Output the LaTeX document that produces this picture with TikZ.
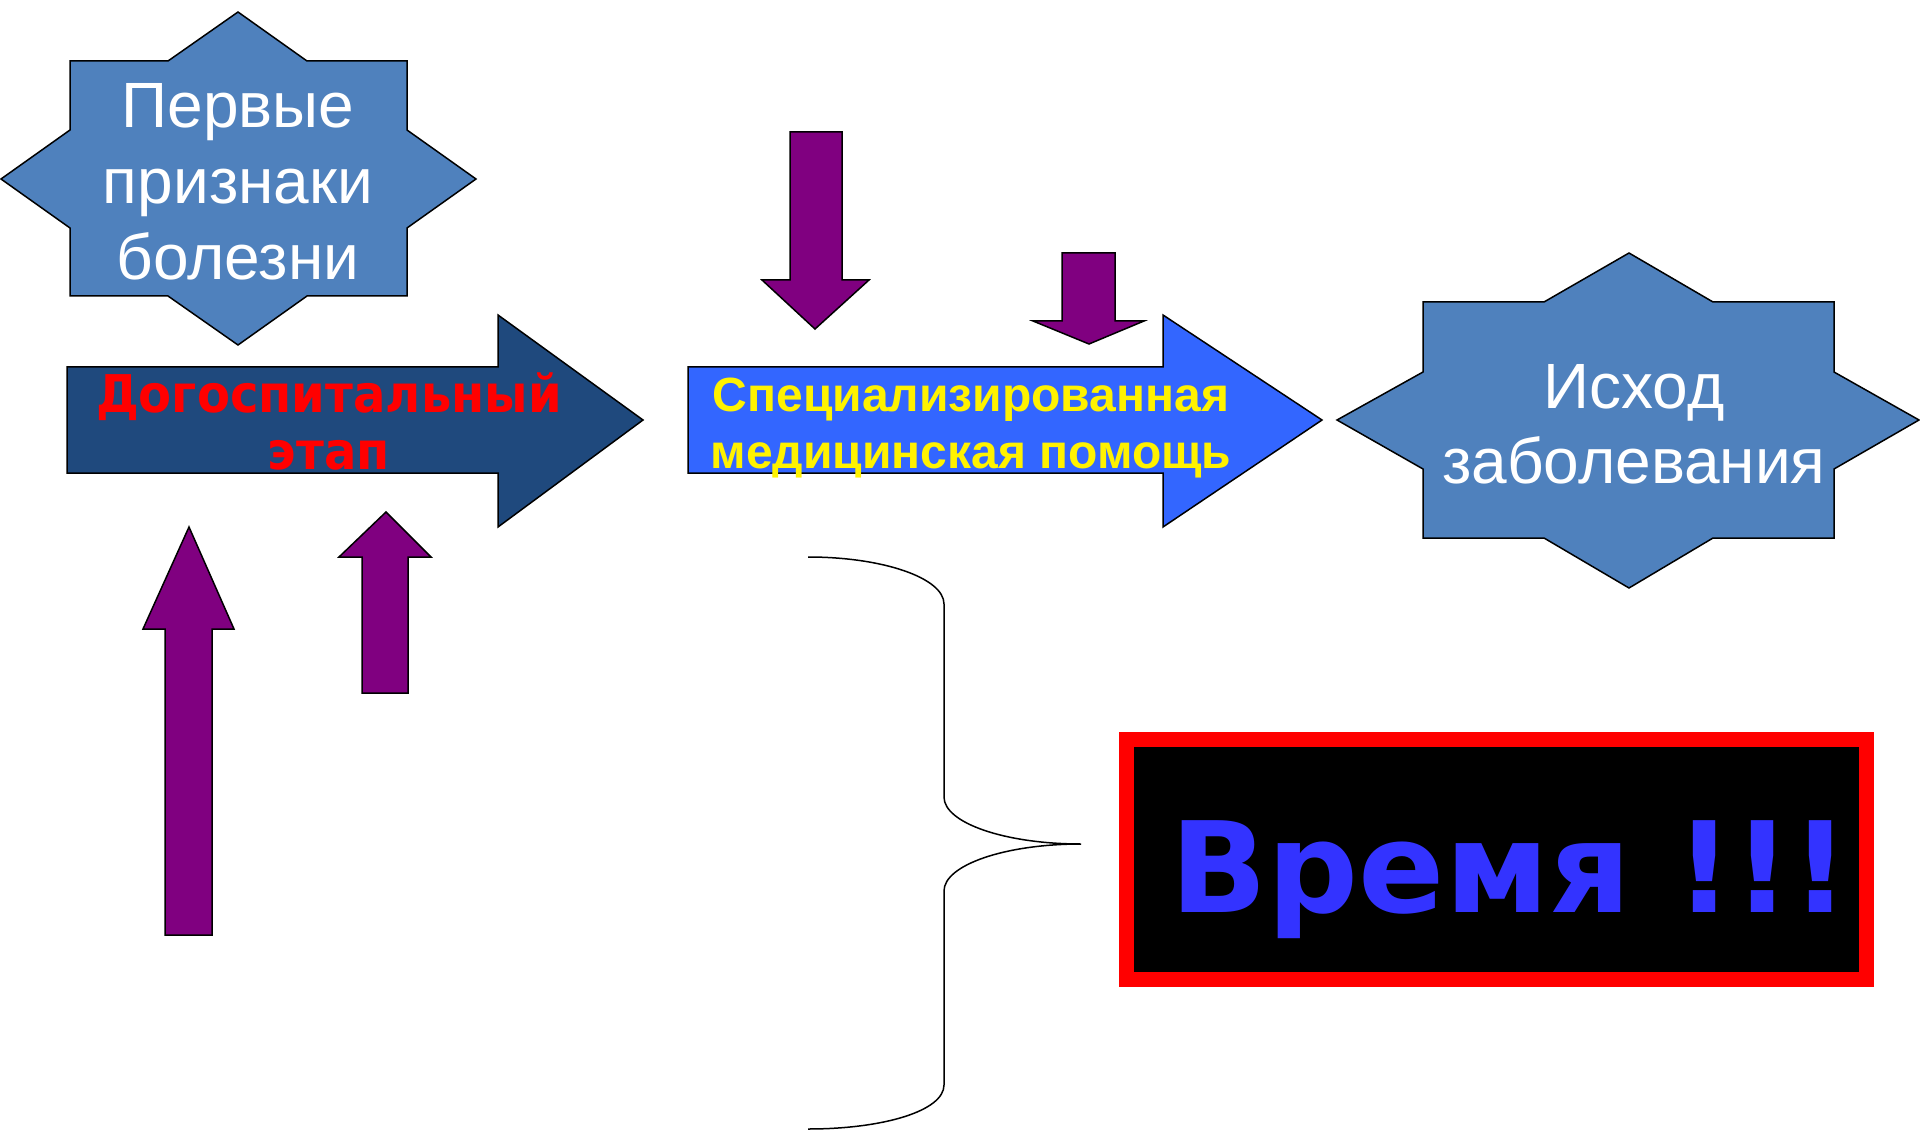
\documentclass[tikz,border=0pt]{standalone}
\usepackage{fontspec}
\setmainfont{Liberation Sans}
\newfontfamily\dvb[FakeStretch=0.925]{DejaVu Sans}
\newfontfamily\dvbw[FakeStretch=1.01]{DejaVu Sans}
\definecolor{starblue}{RGB}{79,129,189}
\definecolor{darkarrow}{RGB}{31,73,125}
\definecolor{brightarrow}{RGB}{51,102,255}
\definecolor{purp}{RGB}{128,0,128}
\definecolor{timeblue}{RGB}{51,51,255}
\begin{document}
\begin{tikzpicture}[x=1pt,y=-1pt,
  shapeline/.style={draw=black,line width=1.5pt,line join=miter},
  starshape/.style={shapeline,fill=starblue},
  purparrow/.style={shapeline,fill=purp},
  startext/.style={align=center,text=white,font=\fontsize{64}{76}\selectfont,inner sep=0pt},
]
\useasboundingbox (0,0) rectangle (1920,1131);
\fill[white] (0,0) rectangle (1920,1131);

% Star 1
\draw[starshape] (238,12) -- (307,61) -- (407,61) -- (407,130) -- (476,179) -- (407,228) -- (407,296)
  -- (307,296) -- (238,345) -- (168,296) -- (70,296) -- (70,228) -- (1,179) -- (70,130) -- (70,61) -- (168,61) -- cycle;
\node[startext] (first) at (238,182) {Первые\\признаки\\болезни};

% Star 2
\draw[starshape] (1629,253) -- (1713,302) -- (1834,302) -- (1834,372) -- (1919,420) -- (1834,469) -- (1834,538)
  -- (1713,538) -- (1629,588) -- (1544,538) -- (1423,538) -- (1423,469) -- (1337,420) -- (1423,372) -- (1423,302) -- (1544,302) -- cycle;
\node[startext,font=\fontsize{64}{75}\selectfont] (outcome) at (1634,424) {Исход\\заболевания};

% Arrow 1
\draw[shapeline,fill=darkarrow] (67,367) -- (498,367) -- (498,315) -- (643,420) -- (498,527) -- (498,473) -- (67,473) -- cycle;
\node[align=center,text=red,font=\dvb\bfseries\fontsize{52}{57}\selectfont,inner sep=0pt] (prehosp) at (329,421) {Догоспитальный\\этап};

% Arrow 2
\draw[shapeline,fill=brightarrow] (688,367) -- (1163,367) -- (1163,315) -- (1322,420) -- (1163,527) -- (1163,473) -- (688,473) -- cycle;
\node[align=center,text=yellow,font=\bfseries\fontsize{48}{57}\selectfont,inner sep=0pt] (spec) at (971,428) {Специализированная\\медицинская помощь};

% Down arrows
\draw[purparrow] (790,132) -- (842,132) -- (842,280) -- (869,280) -- (815,329) -- (762,280) -- (790,280) -- cycle;
\draw[purparrow] (1062,253) -- (1115,253) -- (1115,321) -- (1144,321) -- (1089,344) -- (1033,321) -- (1062,321) -- cycle;

% Up arrows
\draw[purparrow] (165,935) -- (212,935) -- (212,629) -- (234,629) -- (189,527) -- (143,629) -- (165,629) -- cycle;
\draw[purparrow] (362,693) -- (408,693) -- (408,557) -- (431,557) -- (386,512) -- (339,557) -- (362,557) -- cycle;

% Brace
\coordinate (bt) at (808,557);
\coordinate (bm) at (1081,844);
\coordinate (bb) at (808,1129);
\draw[black,line width=1.5pt] (bt) .. controls (883,557) and (944,578) .. (944,604) -- (944,797)
  .. controls (944,823) and (1005,844) .. (bm)
  .. controls (1005,844) and (944,865) .. (944,891) -- (944,1085)
  .. controls (944,1111) and (883,1129) .. (bb);

% Time box
\draw[red,line width=15pt,fill=black] (1126.5,739) rectangle (1866,979);
\node[anchor=base,text=timeblue,font=\dvbw\bfseries\fontsize{126}{140}\selectfont,inner sep=0pt] (time) at (1510,912) {Время !!!};
\end{tikzpicture}
\end{document}
